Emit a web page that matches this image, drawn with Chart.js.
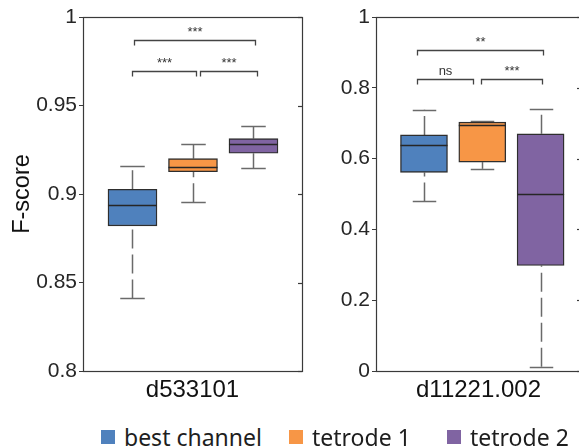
<!DOCTYPE html>
<html>
<head>
<meta charset="utf-8">
<script src="https://cdn.jsdelivr.net/npm/chart.js@4.4.1/dist/chart.umd.min.js"></script>
<style>
  body { margin: 0; width: 579px; height: 446px; overflow: hidden; background: #fff; position: relative; }
  #c1 { position: absolute; left: 0; top: 0; }
  #c2 { position: absolute; left: 290px; top: 0; }
  .item { position: absolute; top: 421px; display: flex; align-items: center; white-space: nowrap;
          font-family: "Noto Sans", "Open Sans", sans-serif; font-size: 23px; color: #1e1e1e; }
  .sw { width: 14px; height: 14px; margin-right: 9px; }
</style>
</head>
<body>
<canvas id="c1" width="310" height="405"></canvas>
<canvas id="c2" width="291" height="405"></canvas>
<div id="legend"></div>
<script>
// groups (legend) and panel labels
var groups = ['best channel', 'tetrode 1', 'tetrode 2'];
var panelLabels = ['d533101', 'd11221.002'];

// panel 1: d533101
var d1Lo  = [0.841, 0.8953, 0.9145];
var d1Q1  = [0.882, 0.9126, 0.9230];
var d1Med = [0.894, 0.9154, 0.9283];
var d1Q3  = [0.9027, 0.9200, 0.9313];
var d1Hi  = [0.916, 0.928, 0.9384];
var d1Ticks = [0.8, 0.85, 0.9, 0.95, 1];
var d1TickLabels = ['0.8', '0.85', '0.9', '0.95', '1'];
var d1SigFrom  = [1.02, 1.0, 2.12];
var d1SigTo    = [3.02, 2.05, 3.06];
var d1SigLevel = [0.987, 0.9695, 0.9695];
var d1SigText  = ['***', '***', '***'];

// panel 2: d11221.002
var d2Lo  = [0.479, 0.571, 0.012];
var d2Q1  = [0.561, 0.590, 0.298];
var d2Med = [0.639, 0.694, 0.5005];
var d2Q3  = [0.667, 0.703, 0.670];
var d2Hi  = [0.738, 0.706, 0.741];
var d2Ticks = [0, 0.2, 0.4, 0.6, 0.8, 1];
var d2TickLabels = ['0', '0.2', '0.4', '0.6', '0.8', '1'];
var d2SigFrom  = [0.88, 0.88, 1.98];
var d2SigTo    = [3.04, 1.84, 3.02];
var d2SigLevel = [0.907, 0.825, 0.825];
var d2SigText  = ['**', 'ns', '***'];

var colors = ['#4f81bd', '#f79646', '#8064a2'];
var legendLeft = [101, 289, 447];
var axisFont = 'Arial, "Liberation Sans", sans-serif';

var panels = {
  c1: { lo: d1Lo, q1: d1Q1, med: d1Med, q3: d1Q3, hi: d1Hi, sf: d1SigFrom, st: d1SigTo, sl: d1SigLevel, tx: d1SigText, bw: 49 },
  c2: { lo: d2Lo, q1: d2Q1, med: d2Med, q3: d2Q3, hi: d2Hi, sf: d2SigFrom, st: d2SigTo, sl: d2SigLevel, tx: d2SigText, bw: 47 }
};

function seg(ctx, x0, y0, x1, y1) {
  ctx.beginPath();
  ctx.moveTo(x0, y0);
  ctx.lineTo(x1, y1);
  ctx.stroke();
}

var boxParts = {
  id: 'boxParts',
  beforeDatasetsDraw: function (chart) {
    var p = panels[chart.canvas.id];
    var x = chart.scales.x, y = chart.scales.y, ctx = chart.ctx;
    ctx.save();
    ctx.strokeStyle = '#6a6a6a';
    ctx.lineWidth = 1.5;
    p.lo.forEach(function (v, i) {
      var px = Math.round(x.getPixelForValue(i + 1)) + 0.5;
      var half = p.bw / 4;
      // whiskers run upward from the lower value, dashed like matlab
      ctx.setLineDash([19, 6]);
      seg(ctx, px, y.getPixelForValue(p.lo[i]), px, y.getPixelForValue(p.q1[i]));
      seg(ctx, px, y.getPixelForValue(p.q3[i]), px, y.getPixelForValue(p.hi[i]));
      ctx.setLineDash([]);
      var yl = Math.round(y.getPixelForValue(p.lo[i])) + 0.5;
      var yh = Math.round(y.getPixelForValue(p.hi[i])) + 0.5;
      seg(ctx, px - half, yl, px + half, yl);
      seg(ctx, px - half, yh, px + half, yh);
    });
    ctx.restore();
  },
  afterDatasetsDraw: function (chart) {
    var p = panels[chart.canvas.id];
    var x = chart.scales.x, y = chart.scales.y, ctx = chart.ctx, a = chart.chartArea;
    ctx.save();
    // medians
    ctx.strokeStyle = '#262626';
    ctx.lineWidth = 1.6;
    p.med.forEach(function (v, i) {
      var px = x.getPixelForValue(i + 1);
      var py = Math.round(y.getPixelForValue(v)) + 0.5;
      seg(ctx, px - p.bw / 2, py, px + p.bw / 2, py);
    });
    // frame
    ctx.strokeStyle = '#3a3a3a';
    ctx.lineWidth = 1.2;
    ctx.strokeRect(Math.round(a.left) + 0.5, Math.round(a.top) + 0.5,
                   Math.round(a.right - a.left), Math.round(a.bottom - a.top));
    // inner ticks on right edge
    y.ticks.forEach(function (t) {
      var py = Math.round(y.getPixelForValue(t.value)) + 0.5;
      seg(ctx, a.right - 4, py, a.right, py);
    });
    // significance brackets
    ctx.strokeStyle = '#444';
    ctx.lineWidth = 1.3;
    ctx.fillStyle = '#333';
    ctx.font = '13px ' + axisFont;
    ctx.textAlign = 'center';
    ctx.textBaseline = 'alphabetic';
    p.sf.forEach(function (f, i) {
      var x0 = Math.round(x.getPixelForValue(f)) + 0.5;
      var x1 = Math.round(x.getPixelForValue(p.st[i])) + 0.5;
      var py = Math.round(y.getPixelForValue(p.sl[i])) + 0.5;
      ctx.beginPath();
      ctx.moveTo(x0, py + 5);
      ctx.lineTo(x0, py);
      ctx.lineTo(x1, py);
      ctx.lineTo(x1, py + 5);
      ctx.stroke();
      ctx.fillText(p.tx[i], (x0 + x1) / 2, py - 5);
    });
    ctx.restore();
  }
};

function makePanel(id, q1, q3, ticks, tickLabels, yMin, yMax, xMin, xMax, xLabel, yTitle, axisW, padRight) {
  var p = panels[id];
  return new Chart(document.getElementById(id), {
    type: 'bar',
    data: {
      datasets: [{
        data: q1.map(function (v, i) { return { x: i + 1, y: [v, q3[i]] }; }),
        backgroundColor: colors,
        borderColor: '#2e2e2e',
        borderWidth: 1.4,
        borderSkipped: false,
        barThickness: p.bw
      }]
    },
    options: {
      responsive: false,
      animation: false,
      devicePixelRatio: 1,
      layout: { padding: { top: 17, right: padRight, left: 0, bottom: 0 } },
      plugins: { legend: { display: false }, tooltip: { enabled: false } },
      scales: {
        x: {
          type: 'linear', min: xMin, max: xMax, offset: false, bounds: 'data',
          ticks: { display: false },
          grid: { display: false, offset: false },
          border: { display: false },
          title: { display: true, text: xLabel, color: '#111',
                   font: { family: axisFont, size: 24 }, padding: { top: 0, bottom: 0 } },
          afterFit: function (s) { s.height = 34; }
        },
        y: {
          min: yMin, max: yMax,
          afterBuildTicks: function (s) { s.ticks = ticks.map(function (v) { return { value: v }; }); },
          ticks: {
            color: '#262626', padding: 2,
            font: { family: axisFont, size: 21 },
            callback: function (v) { return tickLabels[ticks.indexOf(v)]; }
          },
          grid: { display: true, drawOnChartArea: false, drawTicks: true, tickLength: 4, color: '#3a3a3a' },
          border: { display: false },
          title: { display: !!yTitle, text: yTitle, color: '#111',
                   font: { family: axisFont, size: 23.5 }, padding: { top: 8, bottom: 0 } },
          afterFit: function (s) { s.width = axisW; }
        }
      }
    },
    plugins: [boxParts]
  });
}

makePanel('c1', d1Q1, d1Q3, d1Ticks, d1TickLabels, 0.8, 1, 0.182, 3.802, panelLabels[0], 'F-score', 83, 8);
makePanel('c2', d2Q1, d2Q3, d2Ticks, d2TickLabels, 0, 1, 0.177, 3.693, panelLabels[1], '', 86, 0);

// legend
var lg = document.getElementById('legend');
groups.forEach(function (g, i) {
  var it = document.createElement('div');
  it.className = 'item';
  it.style.left = legendLeft[i] + 'px';
  var sw = document.createElement('span');
  sw.className = 'sw';
  sw.style.background = colors[i];
  var tx = document.createElement('span');
  tx.textContent = g;
  it.appendChild(sw);
  it.appendChild(tx);
  lg.appendChild(it);
});
</script>
</body>
</html>
